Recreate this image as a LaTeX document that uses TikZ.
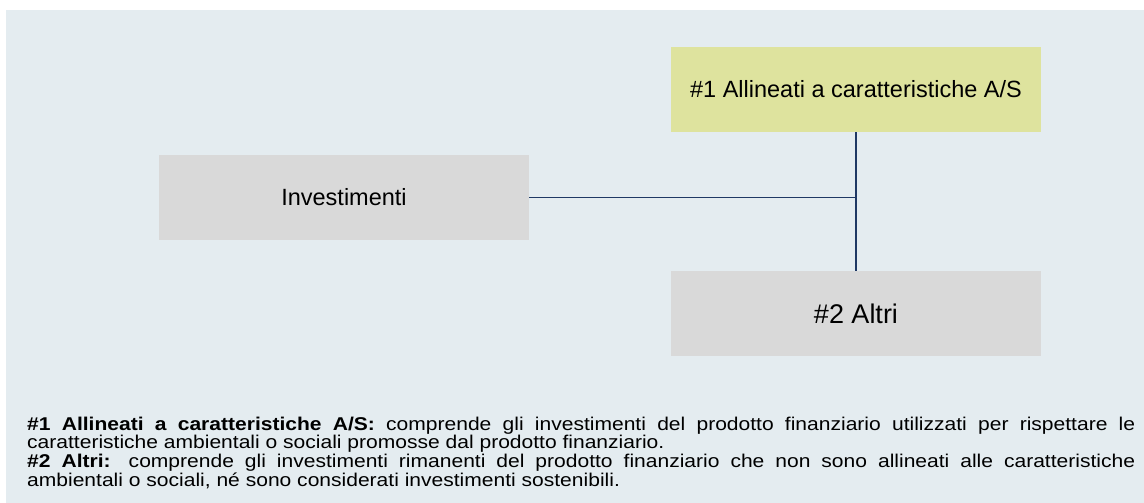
\documentclass[tikz,border=0pt]{standalone}
\usepackage{fontspec}
\setmainfont{Liberation Sans}
\newfontfamily\bodyfont[FakeStretch=1.137]{Liberation Sans}
\definecolor{bgc}{RGB}{228,236,240}
\definecolor{greyc}{RGB}{217,217,217}
\definecolor{yelc}{RGB}{222,227,158}
\definecolor{linec}{RGB}{31,56,100}
\hyphenpenalty=10000
\exhyphenpenalty=10000
\begin{document}
\begin{tikzpicture}[x=1pt,y=-1pt,
  box/.style={draw=none,minimum width=370pt,minimum height=85pt,inner sep=0pt,text=black},
  conn/.style={draw=linec,line width=1.2pt}]
\useasboundingbox (0,0) rectangle (1144,503);
\fill[bgc] (6,10) rectangle (1144,503);
\node[box,fill=greyc,font=\fontsize{23.5}{28}\selectfont] (inv) at (344,197.5) {Investimenti};
\node[box,fill=yelc,font=\fontsize{23.5}{28}\selectfont] (a1) at (856,89.5) {\#1 Allineati a caratteristiche A/S};
\node[box,fill=greyc,font=\fontsize{27}{32}\selectfont] (a2) at (856,313.5) {\#2 Altri};
\coordinate (j) at (a1.south |- inv.east);
\draw[conn] (a1.south) -- (a2.north);
\draw[conn] (inv.east) -- (j);
\node[anchor=north west,inner sep=0pt,text width=1108pt,align=justify,font=\bodyfont\fontsize{18.5}{18.7}\selectfont] (txt) at (27,416.5)
{\textbf{\#1 Allineati a caratteristiche A/S:} comprende gli investimenti del prodotto finanziario utilizzati per rispettare le\linebreak caratteristiche ambientali o sociali promosse dal prodotto finanziario.\\
\textbf{\#2 Altri:} comprende gli investimenti rimanenti del prodotto finanziario che non sono allineati alle caratteristiche\linebreak ambientali o sociali, né sono considerati investimenti sostenibili.};
\end{tikzpicture}
\end{document}
